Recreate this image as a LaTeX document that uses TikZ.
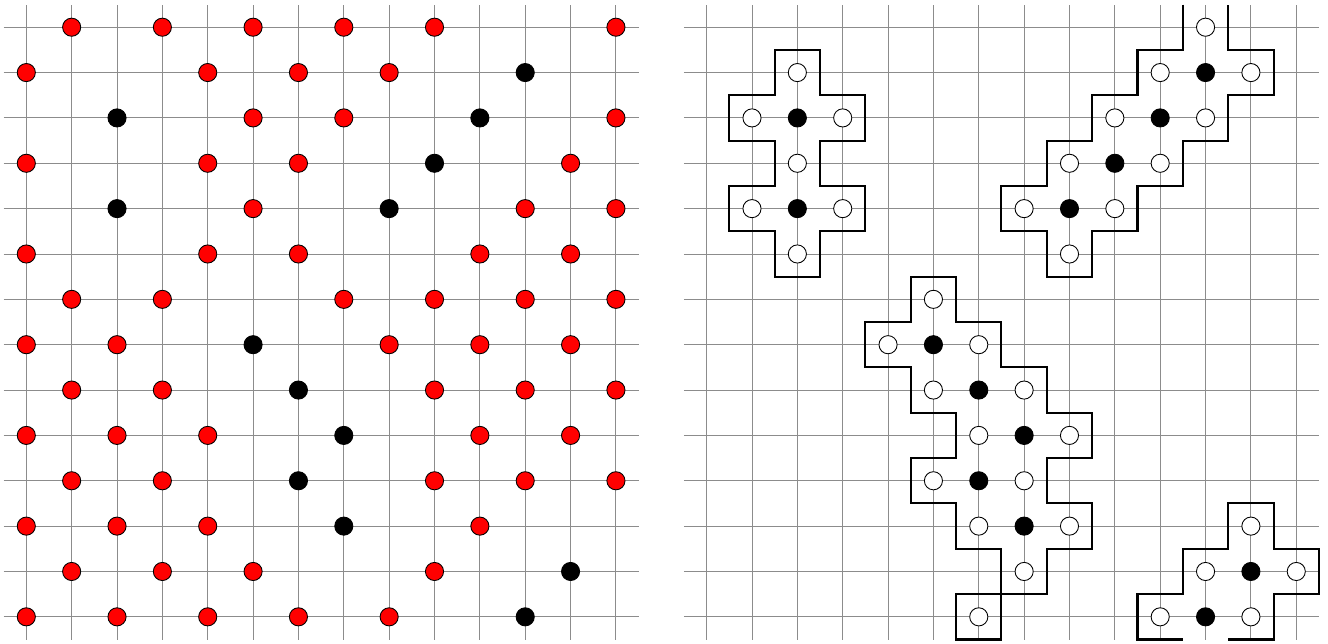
\documentclass[tikz,border=0pt]{standalone}
\begin{document}
\begin{tikzpicture}[
  gridline/.style={draw=black!45, line width=0.6pt},
  dotbase/.style={circle, minimum size=0.4cm, inner sep=0pt, line width=0.55pt, draw=black},
  reddot/.style={dotbase, fill=red},
  blackdot/.style={dotbase, fill=black},
  whitedot/.style={dotbase, fill=white},
  outline/.style={draw=black, line width=1.3pt}
]
\useasboundingbox (-0.58,0.60) rectangle (28.70,-13.58);

% ---------------- left panel ----------------
\draw[gridline] (-0.5,-13.5) grid (13.5,0.5);
\foreach \r/\cols in {0/{1,3,5,7,9,13}, 1/{0,4,6,8}, 2/{5,7,13}, 3/{0,4,6,12},
  4/{5,11,13}, 5/{0,4,6,10,12}, 6/{1,3,7,9,11,13}, 7/{0,2,8,10,12},
  8/{1,3,9,11,13}, 9/{0,2,4,10,12}, 10/{1,3,9,11,13}, 11/{0,2,4,10},
  12/{1,3,5,9}, 13/{0,2,4,6,8}}{
  \foreach \c in \cols { \node[reddot] (L\c-\r) at (\c,-\r) {}; }
}
\foreach \c/\r in {11/1, 2/2, 10/2, 9/3, 2/4, 8/4, 5/7, 6/8, 7/9, 6/10, 7/11, 12/12, 11/13}{
  \node[blackdot] (L\c-\r) at (\c,-\r) {};
}

% ---------------- right panel ----------------
\begin{scope}[xshift=15cm]
\draw[gridline] (-0.5,-13.5) grid (13.5,0.5);

% shape 1
\draw[outline] (1.5,-0.5) -- (2.5,-0.5) -- (2.5,-1.5) -- (3.5,-1.5) -- (3.5,-2.5) -- (2.5,-2.5)
  -- (2.5,-3.5) -- (3.5,-3.5) -- (3.5,-4.5) -- (2.5,-4.5) -- (2.5,-5.5) -- (1.5,-5.5)
  -- (1.5,-4.5) -- (0.5,-4.5) -- (0.5,-3.5) -- (1.5,-3.5) -- (1.5,-2.5) -- (0.5,-2.5)
  -- (0.5,-1.5) -- (1.5,-1.5) -- cycle;

% shape 2 (open at the top, continues at the bottom)
\draw[outline] (10.5,0.5) -- (10.5,-0.5) -- (9.5,-0.5) -- (9.5,-1.5) -- (8.5,-1.5) -- (8.5,-2.5)
  -- (7.5,-2.5) -- (7.5,-3.5) -- (6.5,-3.5) -- (6.5,-4.5) -- (7.5,-4.5) -- (7.5,-5.5)
  -- (8.5,-5.5) -- (8.5,-4.5) -- (9.5,-4.5) -- (9.5,-3.5) -- (10.5,-3.5) -- (10.5,-2.5)
  -- (11.5,-2.5) -- (11.5,-1.5) -- (12.5,-1.5) -- (12.5,-0.5) -- (11.5,-0.5) -- (11.5,0.5);

% shape 3
\draw[outline] (4.5,-5.5) -- (5.5,-5.5) -- (5.5,-6.5) -- (6.5,-6.5) -- (6.5,-7.5) -- (7.5,-7.5)
  -- (7.5,-8.5) -- (8.5,-8.5) -- (8.5,-9.5) -- (7.5,-9.5) -- (7.5,-10.5) -- (8.5,-10.5)
  -- (8.5,-11.5) -- (7.5,-11.5) -- (7.5,-12.5) -- (6.5,-12.5) -- (6.5,-11.5) -- (5.5,-11.5)
  -- (5.5,-10.5) -- (4.5,-10.5) -- (4.5,-9.5) -- (5.5,-9.5) -- (5.5,-8.5) -- (4.5,-8.5)
  -- (4.5,-7.5) -- (3.5,-7.5) -- (3.5,-6.5) -- (4.5,-6.5) -- cycle;
\draw[outline] (5.5,-12.5) rectangle (6.5,-13.5);

% shape 4 (open at the bottom)
\draw[outline] (10.5,-13.5) -- (9.5,-13.5) -- (9.5,-12.5) -- (10.5,-12.5) -- (10.5,-11.5)
  -- (11.5,-11.5) -- (11.5,-10.5) -- (12.5,-10.5) -- (12.5,-11.5) -- (13.5,-11.5)
  -- (13.5,-12.5) -- (12.5,-12.5) -- (12.5,-13.5) -- (11.5,-13.5);

\foreach \c/\r in {2/1, 1/2, 3/2, 2/3, 1/4, 3/4, 2/5,
  11/0, 10/1, 12/1, 9/2, 11/2, 8/3, 10/3, 7/4, 9/4, 8/5,
  5/6, 4/7, 6/7, 5/8, 7/8, 6/9, 8/9, 5/10, 7/10, 6/11, 8/11, 7/12, 6/13,
  12/11, 11/12, 13/12, 10/13, 12/13}{
  \node[whitedot] (R\c-\r) at (\c,-\r) {};
}
\foreach \c/\r in {11/1, 2/2, 10/2, 9/3, 2/4, 8/4, 5/7, 6/8, 7/9, 6/10, 7/11, 12/12, 11/13}{
  \node[blackdot] (R\c-\r) at (\c,-\r) {};
}
\end{scope}
\end{tikzpicture}
\end{document}
